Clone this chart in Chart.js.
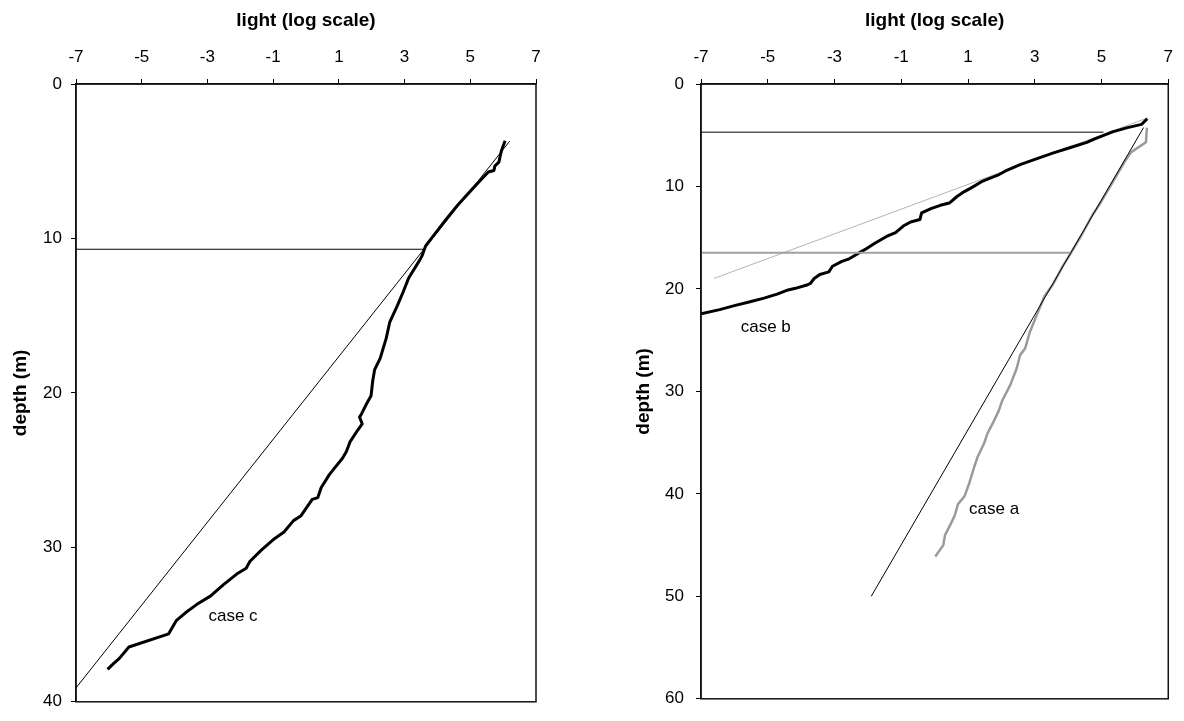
<!DOCTYPE html>
<html>
<head>
<meta charset="utf-8">
<script src="https://cdn.jsdelivr.net/npm/chart.js@4.4.1/dist/chart.umd.min.js"></script>
<style>
  html, body { margin: 0; padding: 0; background: #fff; }
  #wrap { position: relative; width: 1184px; height: 721px; overflow: hidden; }
  .panel { position: absolute; top: 0; width: 592px; height: 721px; }
  canvas { display: block; }
</style>
</head>
<body>
<div id="wrap">
  <div class="panel" style="left:0"><canvas id="panelC" width="592" height="721"></canvas></div>
  <div class="panel" style="left:592px"><canvas id="panelAB" width="592" height="721"></canvas></div>
</div>
<script>
// Axis ticks
const lightTicks = [-7, -5, -3, -1, 1, 3, 5, 7];
const depthTicksC = [0, 10, 20, 30, 40];
const depthTicksAB = [0, 10, 20, 30, 40, 50, 60];

// Case c: measured light profile (log light vs depth)
const caseCLight = [6.06, 5.95, 5.87, 5.75, 5.72, 5.55, 5.31, 5.03, 4.62, 4.22, 3.87, 3.64, 3.53, 3.47, 3.13, 2.95,
  2.78, 2.55, 2.44, 2.26, 2.09, 2.03, 1.98, 1.84, 1.69, 1.63, 1.71, 1.57, 1.34, 1.23, 1.11, 0.83, 0.71, 0.46, 0.36,
  0.19, -0.15, -0.38, -0.67, -0.96, -1.36, -1.71, -1.82, -2.11, -2.51, -2.91, -3.32, -3.66, -3.95, -4.18, -5.39,
  -5.68, -5.85, -6.04];
const caseCDepth = [3.68, 4.3, 5.06, 5.3, 5.6, 5.7, 6.23, 6.87, 7.83, 8.89, 9.85, 10.49, 11.13, 11.37, 12.54, 13.5,
  14.35, 15.41, 16.47, 17.75, 18.49, 19.23, 20.19, 20.72, 21.36, 21.57, 22.0, 22.42, 23.17, 23.8, 24.23, 24.97, 25.29,
  26.14, 26.78, 26.89, 27.95, 28.27, 29.01, 29.44, 30.18, 30.92, 31.35, 31.73, 32.41, 33.16, 33.69, 34.22, 34.75,
  35.6, 36.45, 37.19, 37.51, 37.9];
// Case c: straight-line extinction fit and its reference depth
const fitCLight = [6.2, -7];
const fitCDepth = [3.7, 39.1];
const refCLight = [-7, 3.6];
const refCDepth = [10.7, 10.7];

// Case b: measured profile, fit and reference depth
const caseBLight = [6.37, 6.2, 5.78, 5.33, 4.78, 4.56, 4.0, 3.56, 3.11, 2.56, 2.11, 1.89, 1.44, 1.11, 0.89, 0.67,
  0.44, 0.17, -0.11, -0.39, -0.44, -0.72, -0.94, -1.17, -1.44, -1.78, -2.06, -2.28, -2.56, -2.78, -3.06, -3.17,
  -3.44, -3.61, -3.72, -3.83, -4.17, -4.39, -4.72, -5.11, -5.56, -6.0, -6.44, -7.0];
const caseBDepth = [3.39, 3.94, 4.26, 4.67, 5.38, 5.7, 6.27, 6.72, 7.23, 7.87, 8.51, 8.9, 9.47, 10.11, 10.5, 10.98,
  11.62, 11.84, 12.16, 12.58, 13.22, 13.47, 13.86, 14.5, 14.88, 15.52, 16.1, 16.51, 17.06, 17.31, 17.79, 18.34,
  18.59, 18.98, 19.46, 19.62, 19.94, 20.1, 20.51, 20.9, 21.28, 21.63, 22.02, 22.43];
const fitBLight = [6.39, -6.61];
const fitBDepth = [3.3, 18.98];
const refBLight = [-7, 5.06];
const refBDepth = [4.7, 4.7];

// Case a: measured profile, fit and reference depth
const caseALight = [6.36, 6.33, 5.89, 5.69, 5.4, 5.0, 4.71, 4.42, 4.07, 3.83, 3.54, 3.29, 3.05, 2.85, 2.71, 2.56,
  2.46, 2.27, 2.02, 1.92, 1.78, 1.58, 1.48, 1.29, 1.19, 1.04, 0.9, 0.7, 0.6, 0.46, 0.31, 0.26, 0.02];
const caseADepth = [4.25, 5.69, 6.65, 7.6, 9.2, 11.44, 12.88, 14.64, 16.56, 17.83, 19.59, 20.71, 22.63, 24.23, 25.82,
  26.46, 27.74, 29.34, 30.94, 31.9, 32.85, 34.13, 35.09, 36.37, 37.33, 38.93, 40.2, 41.0, 42.12, 43.08, 44.04, 45.0,
  46.12];
const fitALight = [6.26, -1.9];
const fitADepth = [4.25, 50];
const refALight = [-7, 4.06];
const refADepth = [16.48, 16.48];

// Curve labels
const notesC = [{ text: 'case c', light: -2.22, depth: 34.47 }];
const notesAB = [
  { text: 'case b', light: -5.06, depth: 23.78 },
  { text: 'case a', light: 1.78, depth: 41.48 }
];

const FONT = '"Liberation Sans", Arial, sans-serif';
const TICK_SIZE = 17;
const TITLE_SIZE = 19;

function pts(xs, ys) {
  return xs.map((x, i) => ({ x: x, y: ys[i] }));
}

function line(xs, ys, color, width) {
  return {
    data: pts(xs, ys),
    showLine: true,
    borderColor: color,
    backgroundColor: color,
    borderWidth: width,
    pointRadius: 0,
    pointHoverRadius: 0,
    tension: 0,
    borderJoinStyle: 'round',
    borderCapStyle: 'butt',
    fill: false
  };
}

// Frame around the plotting area
const framePlugin = {
  id: 'frame',
  afterDatasetsDraw(chart) {
    const a = chart.chartArea;
    const ctx = chart.ctx;
    ctx.save();
    ctx.strokeStyle = '#111';
    ctx.lineWidth = 1.5;
    ctx.strokeRect(a.left, a.top, a.right - a.left, a.bottom - a.top);
    ctx.restore();
  }
};

// Text labels placed beside the curves, in data units
const notesPlugin = {
  id: 'notes',
  afterDatasetsDraw(chart, args, opts) {
    const ctx = chart.ctx;
    const xs = chart.scales.x, ys = chart.scales.y;
    ctx.save();
    ctx.font = TICK_SIZE + 'px ' + FONT;
    ctx.fillStyle = '#000';
    ctx.textAlign = 'center';
    ctx.textBaseline = 'middle';
    (opts.items || []).forEach(n => {
      ctx.fillText(n.text, xs.getPixelForValue(n.light), ys.getPixelForValue(n.depth));
    });
    ctx.restore();
  }
};

function makeChart(id, datasets, depthTicks, cfg) {
  return new Chart(document.getElementById(id), {
    type: 'scatter',
    data: { datasets: datasets },
    plugins: [framePlugin, notesPlugin],
    options: {
      responsive: false,
      animation: false,
      devicePixelRatio: 1,
      layout: { padding: { left: 0, top: 0, right: cfg.padRight, bottom: cfg.padBottom } },
      plugins: {
        legend: { display: false },
        tooltip: { enabled: false },
        notes: { items: cfg.notes }
      },
      scales: {
        x: {
          type: 'linear',
          position: 'top',
          min: lightTicks[0],
          max: lightTicks[lightTicks.length - 1],
          afterBuildTicks: s => { s.ticks = lightTicks.map(v => ({ value: v })); },
          afterFit: s => { s.height = cfg.plotTop; },
          grid: { display: true, drawOnChartArea: false, drawTicks: true, tickLength: 5, color: '#000', lineWidth: 1 },
          border: { display: true, color: '#111', width: 1.5 },
          ticks: { color: '#000', font: { family: FONT, size: TICK_SIZE }, padding: 11, maxRotation: 0, autoSkip: false },
          title: {
            display: true, text: 'light (log scale)', color: '#000',
            font: { family: FONT, size: TITLE_SIZE, weight: 'bold' },
            padding: { top: 9, bottom: 0 }
          }
        },
        y: {
          type: 'linear',
          position: 'left',
          reverse: true,
          min: depthTicks[0],
          max: depthTicks[depthTicks.length - 1],
          afterBuildTicks: s => { s.ticks = depthTicks.map(v => ({ value: v })); },
          afterFit: s => { s.width = cfg.plotLeft; },
          grid: { display: true, drawOnChartArea: false, drawTicks: true, tickLength: 5, color: '#000', lineWidth: 1 },
          border: { display: true, color: '#111', width: 1.5 },
          ticks: { color: '#000', font: { family: FONT, size: TICK_SIZE }, padding: cfg.tickPad, autoSkip: false },
          title: {
            display: true, text: 'depth (m)', color: '#000',
            font: { family: FONT, size: TITLE_SIZE, weight: 'bold' },
            padding: { top: cfg.titlePad, bottom: 0 }
          }
        }
      }
    }
  });
}

makeChart('panelC', [
  line(refCLight, refCDepth, '#000', 1),
  line(fitCLight, fitCDepth, '#000', 1),
  line(caseCLight, caseCDepth, '#000', 3)
], depthTicksC, { plotLeft: 76, plotTop: 84, padRight: 56, padBottom: 9, tickPad: 9, titlePad: 9, notes: notesC });

makeChart('panelAB', [
  line(refBLight, refBDepth, '#000', 1),
  line(refALight, refADepth, '#a0a0a0', 2),
  line(fitALight, fitADepth, '#000', 1),
  line(caseALight, caseADepth, '#9a9a9a', 2.5),
  line(caseBLight, caseBDepth, '#000', 3),
  line(fitBLight, fitBDepth, '#b4b4b4', 1)
], depthTicksAB, { plotLeft: 109, plotTop: 84, padRight: 6, padBottom: 11, tickPad: 12, titlePad: 40, notes: notesAB });
</script>
</body>
</html>
